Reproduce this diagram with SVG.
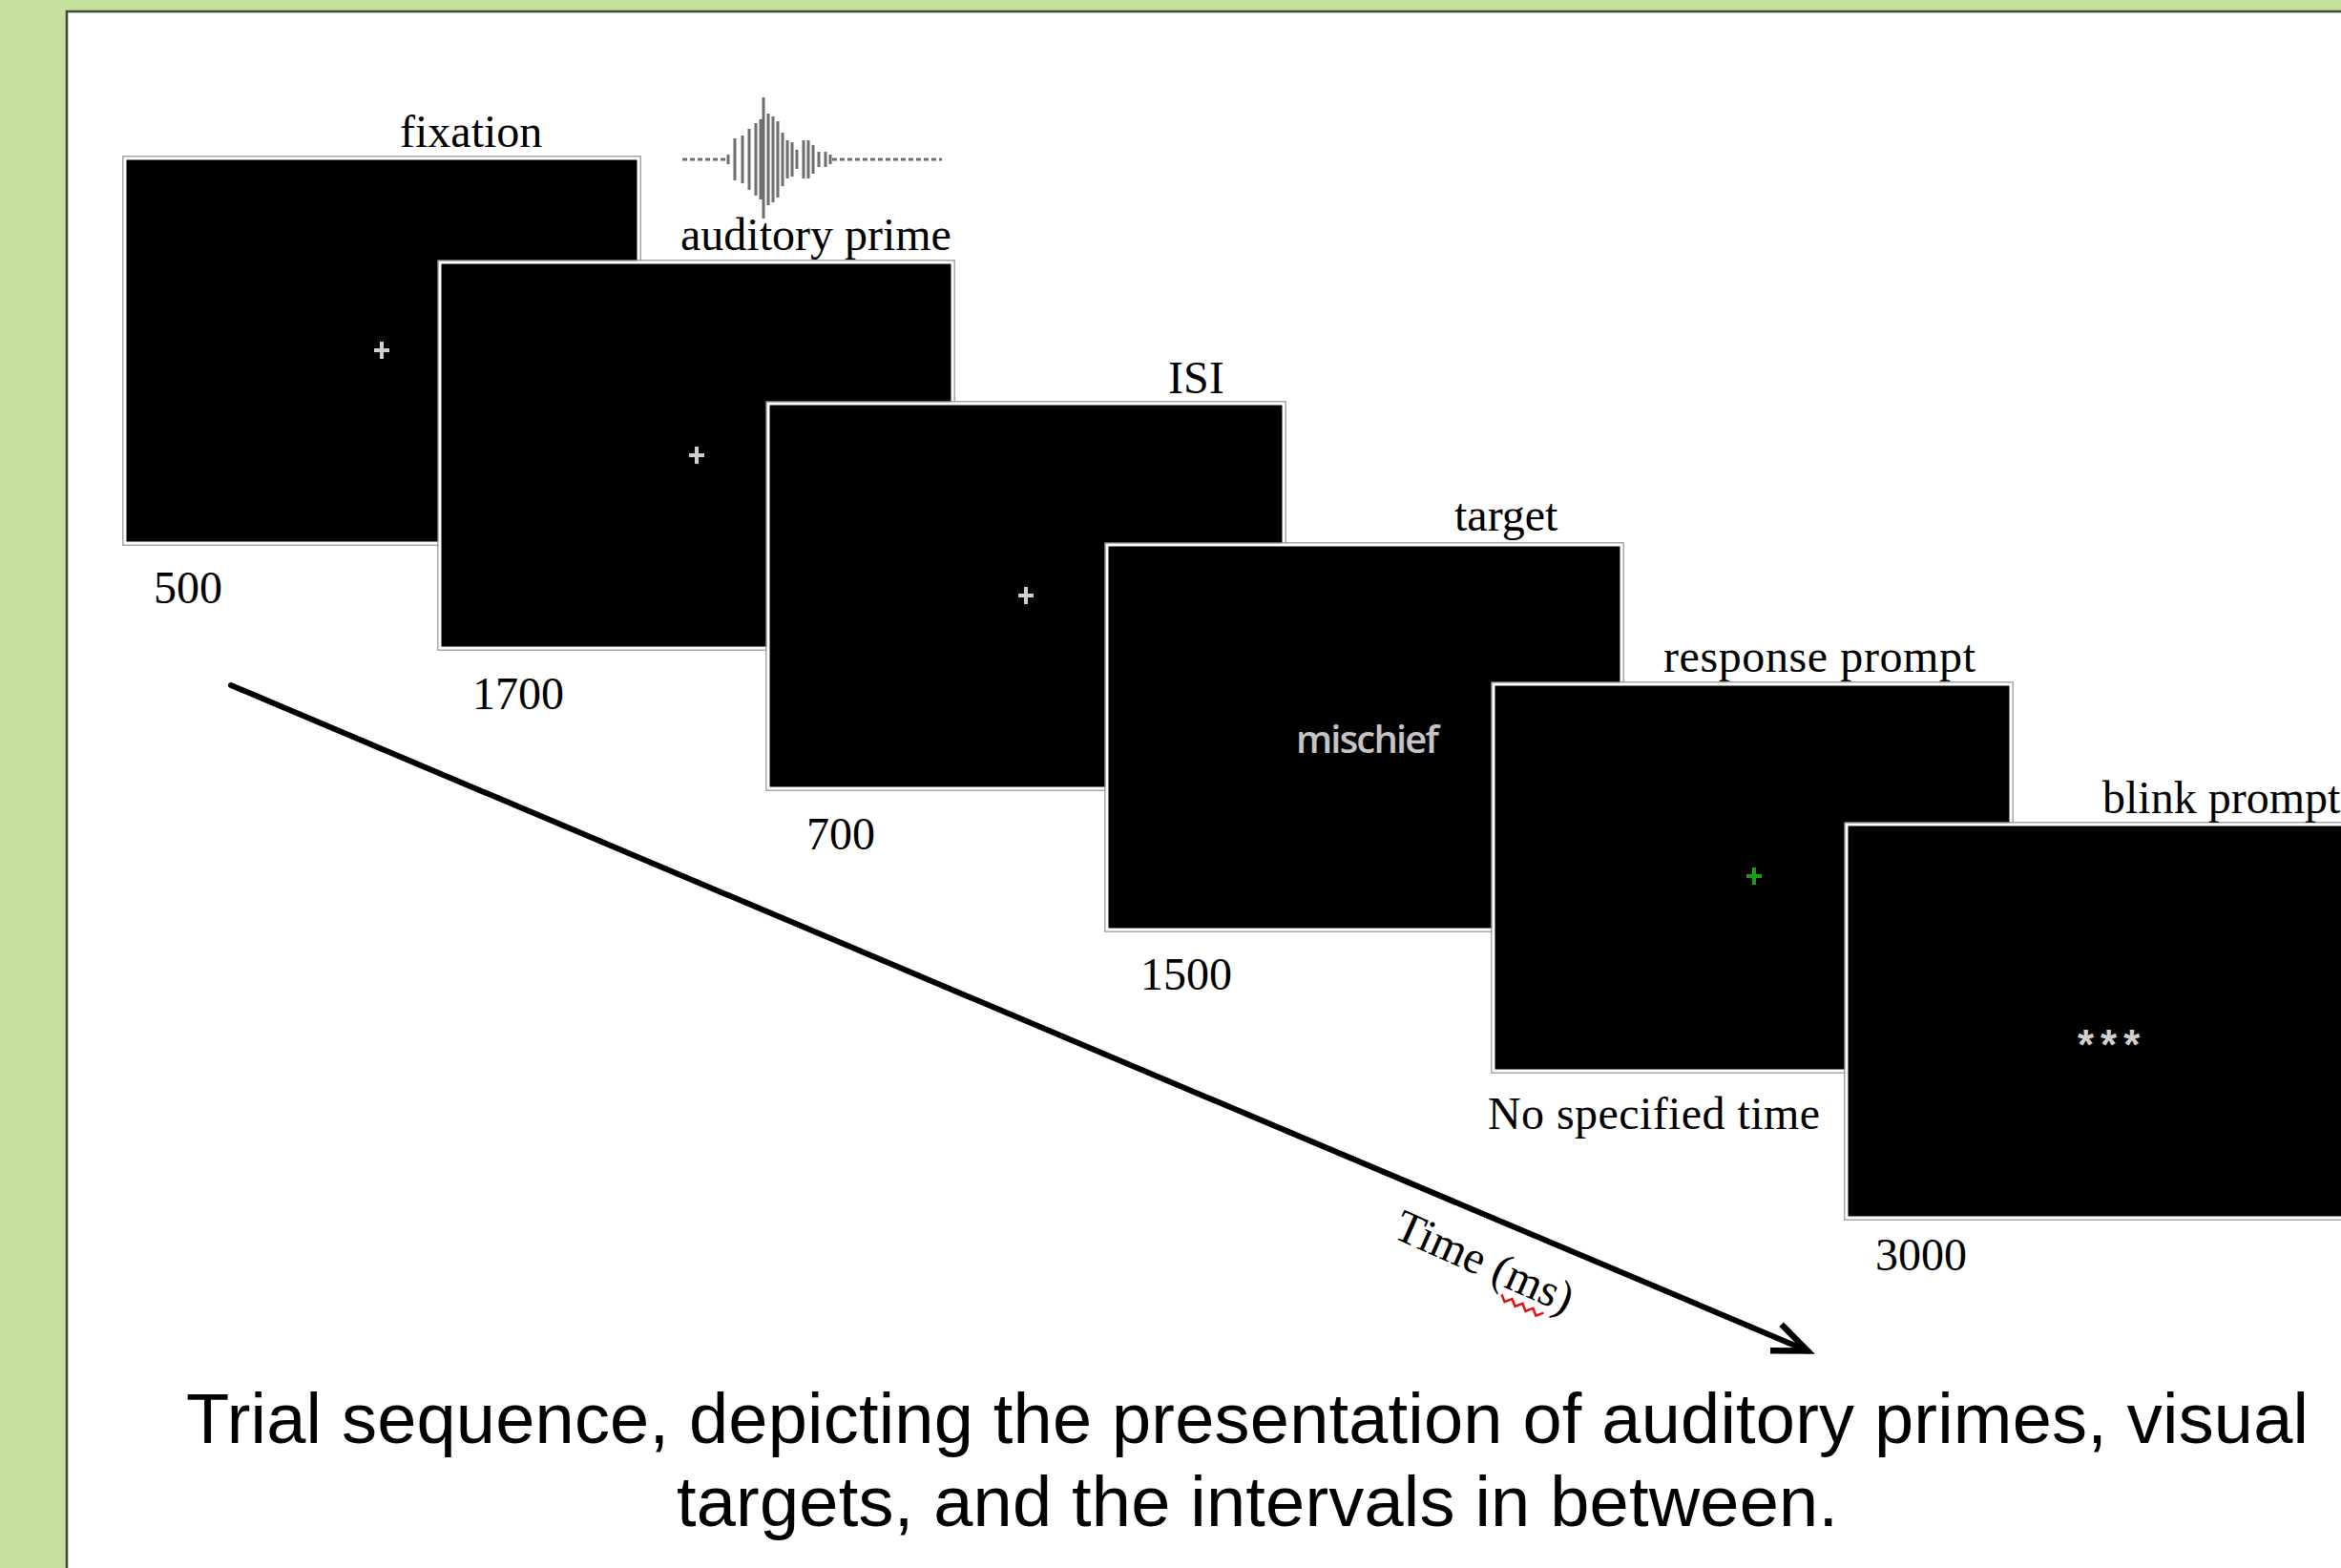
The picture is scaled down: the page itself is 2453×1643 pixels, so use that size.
<svg xmlns="http://www.w3.org/2000/svg" width="2453" height="1643" viewBox="0 0 2453 1643">
<defs>
<style>
.scr{fill:#000;stroke:#fff;stroke-width:3}
.edge{fill:none;stroke:#8a8a8a;stroke-width:1.5}
.lbl{font-family:"Liberation Serif","Times New Roman",serif;font-size:48px;fill:#000}
.cap{font-family:"Liberation Sans",Arial,sans-serif;font-size:74px;fill:#000}
.fix{stroke:#d0d0d0;stroke-width:4;fill:none}
.wave{stroke:#6e6e6e;stroke-width:3;fill:none}
</style>
<marker id="chev" markerUnits="userSpaceOnUse" markerWidth="60" markerHeight="60" viewBox="-45 -30 60 60" refX="0" refY="0" orient="auto">
<path d="M-36,-15 L0,0 L-36,15" fill="none" stroke="#000" stroke-width="6.5" stroke-linejoin="miter"/>
</marker>
</defs>
<rect x="0" y="0" width="2453" height="1643" fill="#c5df9d"/>
<rect x="70" y="12" width="2420" height="1700" fill="#fff" stroke="#3f4a38" stroke-width="2.5"/>

<g id="connectors">
<line x1="242" y1="718" x2="1894" y2="1415.5" stroke="#000" stroke-width="6" stroke-linecap="round" marker-end="url(#chev)"/>
<g transform="rotate(24 1458 1296)">
<text class="lbl" x="1458" y="1296">Time (ms)</text>
<path d="M1588,1304 l6,6 l6,-6 l6,6 l6,-6 l6,6 l6,-6 l6,6 l6,-6" fill="none" stroke="#e01010" stroke-width="2.5"/>
</g>
</g>

<g id="node-fixation">
<rect class="edge" x="129" y="164" width="542" height="407"/>
<rect class="scr" x="131" y="166" width="538" height="403"/>
<path class="fix" d="M392,367h16M400,358v18"/>
<text class="lbl" x="419" y="154">fixation</text>
<text class="lbl" x="161" y="632">500</text>
</g>

<g id="node-auditory-prime">
<rect class="edge" x="459" y="273" width="541" height="408"/>
<rect class="scr" x="461" y="275" width="537" height="404"/>
<path class="fix" d="M722,477h16M730,468v18"/>
<path class="wave" stroke-dasharray="5 3" d="M715,167H760M872,167H987"/>
<path class="wave" d="M763,162v10M770,145v44M778,142v50M785,135v64M792,129v76M797,125v84M800,102v127M805,119v96M810,122v90M815,127v80M820,139v56M825,147v40M830,149v36M835,157v20M842,147v40M847,147v40M852,152v30M858,159v16M865,159v16M870,162v10"/>
<text class="lbl" x="713" y="262">auditory prime</text>
<text class="lbl" x="495" y="743">1700</text>
</g>

<g id="node-isi">
<rect class="edge" x="803" y="421" width="544" height="407"/>
<rect class="scr" x="805" y="423" width="540" height="403"/>
<path class="fix" d="M1067,624h16M1075,615v18"/>
<text class="lbl" x="1224" y="412">ISI</text>
<text class="lbl" x="845" y="890">700</text>
</g>

<g id="node-target">
<rect class="edge" x="1158" y="569" width="543" height="407"/>
<rect class="scr" x="1160" y="571" width="539" height="403"/>
<text x="1358" y="789" textLength="150" font-family="'Open Sans','Liberation Sans',sans-serif" font-size="40" font-weight="600" fill="#c4c4c4">mischief</text>
<text class="lbl" x="1524" y="556">target</text>
<text class="lbl" x="1195" y="1037">1500</text>
</g>

<g id="node-response-prompt">
<rect class="edge" x="1563" y="715" width="546" height="409"/>
<rect class="scr" x="1565" y="717" width="542" height="405"/>
<path d="M1830,918h16M1838,909v18" stroke="#1f9a1f" stroke-width="4" fill="none"/>
<text class="lbl" x="1743" y="704" textLength="327">response prompt</text>
<text class="lbl" x="1559" y="1183" textLength="348">No specified time</text>
</g>

<g id="node-blink-prompt">
<rect class="edge" x="1933" y="862" width="544" height="416"/>
<rect class="scr" x="1935" y="864" width="540" height="412"/>
<text x="2177" y="1110" font-family="'Liberation Sans',Arial,sans-serif" font-size="44" font-weight="bold" letter-spacing="7" fill="#d0d0d0">***</text>
<text class="lbl" x="2203" y="852">blink prompt</text>
<text class="lbl" x="1965" y="1331">3000</text>
</g>

<g id="caption">
<text class="cap" x="195" y="1512" textLength="2224">Trial sequence, depicting the presentation of auditory primes, visual</text>
<text class="cap" x="709" y="1599" textLength="1217">targets, and the intervals in between.</text>
</g>
</svg>
